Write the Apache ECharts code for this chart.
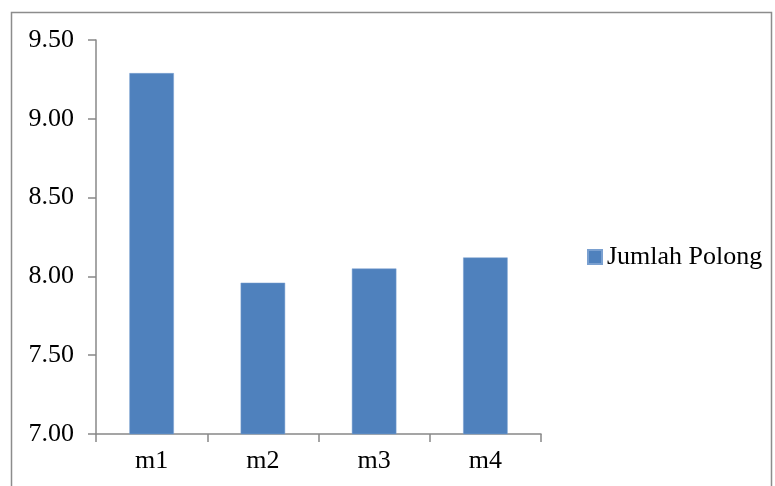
<!DOCTYPE html>
<html><head><meta charset="utf-8">
<script src="https://cdn.jsdelivr.net/npm/echarts@6/dist/echarts.min.js"></script>
<style>html,body{margin:0;padding:0;background:#fff}#c{width:775px;height:486px}</style>
</head><body><div id="c"></div>
<script>
const categories = ['m1', 'm2', 'm3', 'm4'];
const seriesName = 'Jumlah Polong';
const values = [9.29, 7.96, 8.05, 8.12];

const chart = echarts.init(document.getElementById('c'), null, {renderer: 'canvas'});
const font = '"Liberation Serif", "Times New Roman", serif';
chart.setOption({
  animation: false,
  backgroundColor: '#fff',
  graphic: [{
    type: 'rect', left: 9, top: 10,
    shape: {width: 760, height: 500},
    style: {fill: 'none', stroke: '#8c8c8c', lineWidth: 1.5},
    silent: true
  }],
  grid: {left: 96, right: 234, top: 40, bottom: 52, containLabel: false},
  legend: {
    data: [seriesName], orient: 'vertical', left: 582, top: 239,
    itemWidth: 14, itemHeight: 14, itemGap: 4,
    icon: 'rect',
    textStyle: {fontFamily: font, fontSize: 26, color: '#000', padding: [0,0,0,0]}
  },
  xAxis: {
    type: 'category', data: categories,
    axisLine: {lineStyle: {color: '#888', width: 1.5}},
    axisTick: {show: true, length: 8, alignWithLabel: false, lineStyle: {color: '#888', width: 1.5}},
    axisLabel: {fontFamily: font, fontSize: 26, color: '#000', margin: 14}
  },
  yAxis: {
    type: 'value', min: 7, max: 9.5, interval: 0.5,
    axisLine: {show: true, lineStyle: {color: '#888', width: 1.5}},
    axisTick: {show: true, length: 8, lineStyle: {color: '#888', width: 1.5}},
    splitLine: {show: false},
    axisLabel: {fontFamily: font, fontSize: 26, color: '#000', margin: 22,
      formatter: v => v.toFixed(2)}
  },
  series: [{
    name: seriesName, type: 'bar', data: values,
    barWidth: '40%',
    itemStyle: {color: '#4F81BD', borderColor: '#7aa0d0', borderWidth: 0.5}
  }]
});
</script></body></html>
